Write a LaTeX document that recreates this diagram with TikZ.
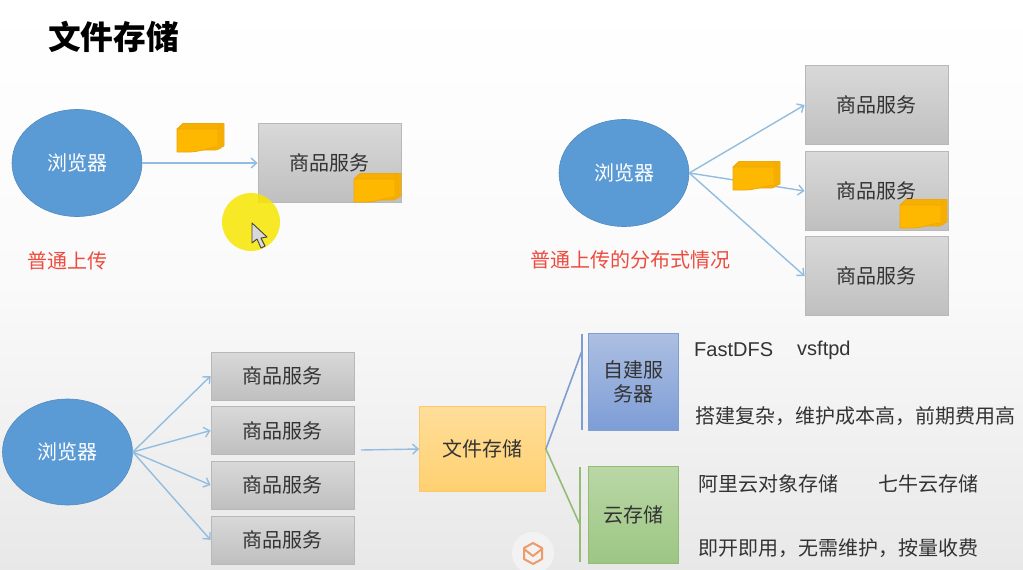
\documentclass[tikz,border=0pt]{standalone}
\usepackage{fontspec}
\setmainfont{Noto Sans CJK SC}
\newfontfamily\latinfont{Liberation Sans}
\usetikzlibrary{arrows.meta,shadings,shapes.geometric}
\definecolor{arrowblue}{HTML}{93BDE0}
\definecolor{ellblue}{HTML}{5B9BD5}
\definecolor{redtxt}{HTML}{EE4B3E}
\definecolor{txt}{HTML}{333333}
\definecolor{docfill}{HTML}{FFB800}
\definecolor{docmid}{HTML}{F8B000}
\definecolor{docedge}{HTML}{EFA80A}
\definecolor{tblue}{HTML}{7F9FD0}
\definecolor{tgreen}{HTML}{93BC75}
\definecolor{blueTop}{HTML}{ADBFE2}
\definecolor{blueBot}{HTML}{7D9DD6}
\definecolor{greenTop}{HTML}{BAD7A6}
\definecolor{greenBot}{HTML}{9CC683}
\definecolor{yelTop}{HTML}{FFDE9A}
\definecolor{yelBot}{HTML}{FFD070}
\definecolor{markyellow}{HTML}{F7E600}
\definecolor{logoorange}{HTML}{EE9A6A}
\tikzset{
  x=1pt,y=-1pt,
  browser/.style={ellipse,fill=ellblue,draw=ellblue!90!black,line width=.6pt,text=white,font=\fontsize{20}{20}\selectfont,inner sep=0pt},
  svc/.style={rectangle,draw=black!28,line width=.8pt,top color=black!15,bottom color=black!25,text=txt,font=\fontsize{20}{20}\selectfont,inner sep=0pt,minimum width=143pt,minimum height=79pt},
  svcsmall/.style={svc,minimum height=48pt},
  conn/.style={arrowblue,line width=1.4pt,-{Straight Barb[length=5.5pt,width=10pt]}},
  lbl/.style={text=txt,font=\fontsize{20}{20}\selectfont,inner sep=0pt,anchor=west},
  redlbl/.style={text=redtxt,font=\fontsize{20}{20}\selectfont,inner sep=0pt,anchor=west},
  doc/.style={fill=docfill,draw=docedge,line width=.8pt,line join=round},
}
\newcommand{\docstack}[2]{%
  \begin{scope}[shift={(#1,#2)}]
    \draw[doc,fill=docmid] (6,-5.5) -- (47,-5.5) -- (47,17) -- (42,19) -- (20,19) -- cycle;
    \draw[doc,fill=docmid] (3.5,-3.5) -- (44,-3.5) -- (44,19) -- (39,21) -- (14,21) -- cycle;
    \draw[doc,fill=docmid] (0,0) -- (6,-5.5) -- (42,-5.5) -- (42,0) -- cycle;
    \draw[doc] (0,0) -- (41,0) -- (41,18) .. controls (30,19) and (22,23) .. (12,23) -- (0,23) -- cycle;
  \end{scope}}
\begin{document}
\begin{tikzpicture}
\useasboundingbox (0,0) rectangle (1023,570);
\shade[top color=white,bottom color=black!9,middle color=black!2] (0,0) rectangle (1023,570);

\node[font=\fontsize{32.7}{33}\selectfont\bfseries,text=black,inner sep=0pt,anchor=west] (title) at (48,37) {文件存储};

% top left
\node[browser,minimum width=130pt,minimum height=107pt] (b1) at (77,163) {浏览器};
\node[svc] (s1) at (329.5,163) {商品服务};
\draw[conn] (b1.east) -- (s1.west);
\docstack{177}{129}
\docstack{354}{179}
\node[redlbl] (l1) at (27,261) {普通上传};
\fill[markyellow,opacity=.85] (251,222) circle (29);
\draw[fill=white!85!black,draw=black!75,line width=.9pt,line join=round] (252,223) -- (252,243) -- (257,239) -- (261,248) -- (265,246) -- (261,238) -- (267,237) -- cycle;

% top right
\node[browser,minimum width=130pt,minimum height=107pt] (b2) at (624,173) {浏览器};
\node[svc] (s2) at (876.5,105) {商品服务};
\node[svc] (s3) at (876.5,191) {商品服务};
\node[svc] (s4) at (876.5,276) {商品服务};
\draw[conn] (b2.east) -- (s2.west);
\draw[conn] (b2.east) -- (s3.west);
\draw[conn] (b2.east) -- (s4.west);
\docstack{733}{167}
\docstack{900}{205}
\node[redlbl] (l2) at (530,260) {普通上传的分布式情况};

% bottom left
\node[browser,minimum width=130pt,minimum height=106pt] (b3) at (67.5,452) {浏览器};
\node[svcsmall] (s5) at (282.5,376) {商品服务};
\node[svcsmall] (s6) at (282.5,430.5) {商品服务};
\node[svcsmall] (s7) at (282.5,485) {商品服务};
\node[svcsmall] (s8) at (282.5,540) {商品服务};
\foreach \t in {s5,s6,s7,s8} \draw[conn] (b3.east) -- (\t.west);

\node[rectangle,draw=yelBot!90!orange,line width=.8pt,top color=yelTop,bottom color=yelBot,text=txt,font=\fontsize{20}{20}\selectfont,minimum width=126pt,minimum height=85pt,inner sep=0pt] (f) at (482.5,449) {文件存储};
\coordinate (fin) at (361,450);
\draw[conn] (fin) -- (f.west);

% tree
\coordinate (bt) at (581.5,334);
\coordinate (bb) at (581.5,430);
\coordinate (bm) at (581.5,352);
\coordinate (gt) at (580,467);
\coordinate (gb) at (580,562);
\coordinate (gm) at (580,525);
\draw[blueBot,line width=2pt] (bt) -- (bb);
\draw[tblue,line width=1.6pt] (f.east) -- (bm);
\draw[tgreen,line width=2pt] (gt) -- (gb);
\draw[tgreen,line width=1.6pt] (f.east) -- (gm);

\node[rectangle,draw=tblue,line width=.9pt,top color=blueTop,bottom color=blueBot,text=txt,font=\fontsize{20}{24}\selectfont,align=center,minimum width=90pt,minimum height=97pt,inner sep=0pt] (n1) at (633,382) {自建服\\务器};
\node[rectangle,draw=tgreen,line width=.9pt,top color=greenTop,bottom color=greenBot,text=txt,font=\fontsize{20}{20}\selectfont,minimum width=90pt,minimum height=97pt,inner sep=0pt] (n2) at (633,515) {云存储};

\node[lbl,font=\fontsize{20}{20}\selectfont\latinfont] (t1) at (694,350) {FastDFS};
\node[lbl,font=\fontsize{20}{20}\selectfont\latinfont] (t2) at (797,350) {vsftpd};
\node[lbl] (t3) at (695,416) {搭建复杂，维护成本高，前期费用高};
\node[lbl] (t4) at (698,484) {阿里云对象存储};
\node[lbl] (t5) at (878,484) {七牛云存储};
\node[lbl] (t6) at (698,548) {即开即用，无需维护，按量收费};

% watermark
\fill[black!5] (533,553) circle (21);
\draw[logoorange,line width=2pt,line join=round] (533,543) -- (542,548) -- (542,559) -- (533,564) -- (524,559) -- (524,548) -- cycle (524,549) -- (533,556) -- (542,549);
\end{tikzpicture}
\end{document}
